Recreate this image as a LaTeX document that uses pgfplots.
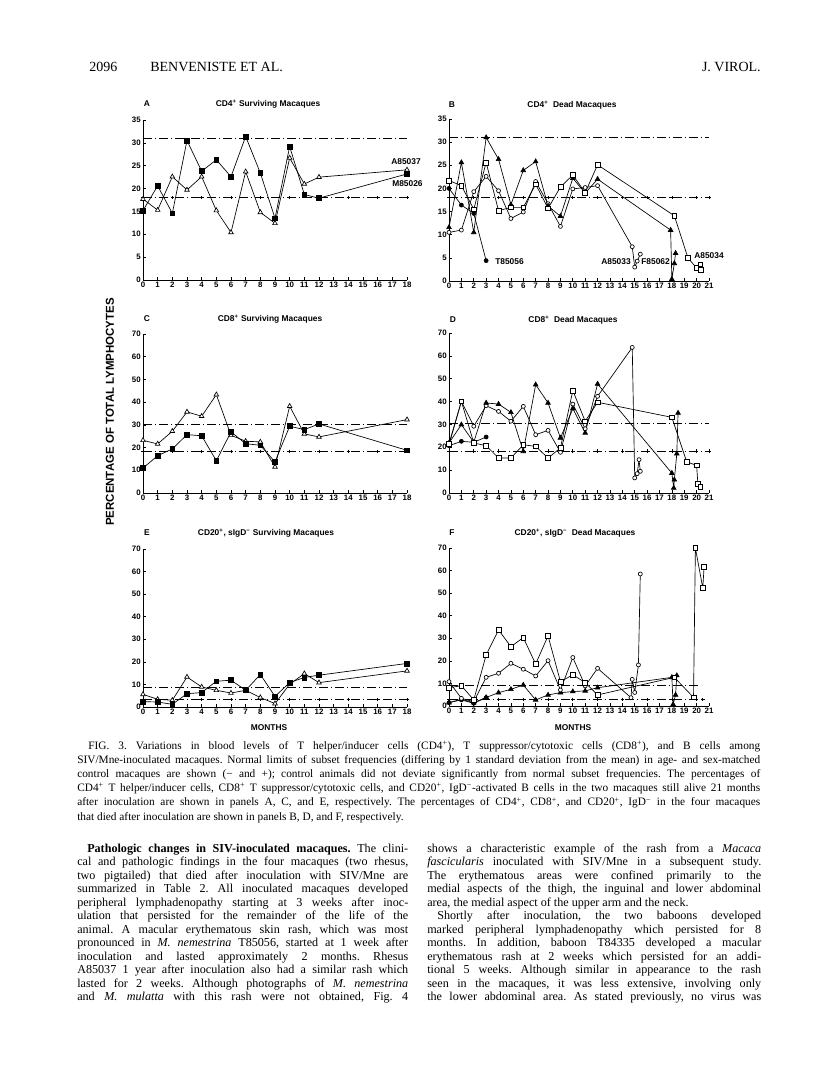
\documentclass[border=0pt]{standalone}
\usepackage{fontspec}
\setmainfont{Liberation Serif}
\newfontfamily\hel{Liberation Sans}
\usepackage{pgfplots}
\pgfplotsset{compat=1.18}
\frenchspacing
\newcommand{\pf}{\hel\bfseries\fontsize{6.3}{7}\selectfont}
\newcommand{\tf}{\hel\bfseries\fontsize{5.9}{7}\selectfont}
\newcommand{\capf}{\fontsize{8.5}{9}\selectfont}
\newcommand{\bodf}{\fontsize{9.1}{10}\selectfont}
\newcommand{\sps}{\textsuperscript{+}}
\newcommand{\smn}{\textsuperscript{−}}
% justified line: x, baseline y (px), width (pt), text
\newcommand{\jl}[4]{\node[anchor=base west, inner sep=0] at (#1,#2) {\makebox[#3pt][s]{#4}};}
\newcommand{\nl}[3]{\node[anchor=base west, inner sep=0] at (#1,#2) {#3};}

\pgfplotsset{
  panel/.style={
    scale only axis,
    axis x line=bottom, axis y line=left,
    axis line style={-, line width=0.6pt},
    tick align=inside, major tick length=2.2pt,
    tick style={black, line width=0.5pt},
    xmin=0, ymin=0,
    ticklabel style={font=\tf},
    /pgf/number format/assume math mode=true,
    x tick label style={inner sep=1pt},
    y tick label style={inner sep=1.5pt},
    clip=false,
    every axis plot/.append style={line width=0.5pt, black},
  },
  surv/.style={panel, width=198pt, xmax=18, xtick={0,...,18}},
  dead/.style={panel, width=195pt, xmax=21, xtick={0,...,21}},
  fsq/.style={mark=square*, mark size=1.8pt, mark options={solid, fill=black}},
  otri/.style={mark=triangle*, mark size=2pt, mark options={solid, fill=white}},
  ftri/.style={mark=triangle*, mark size=2pt, mark options={solid, fill=black}},
  osq/.style={mark=square*, mark size=1.8pt, mark options={solid, fill=white}},
  oci/.style={mark=*, mark size=1.5pt, mark options={solid, fill=white}},
  fci/.style={mark=*, mark size=1.5pt, mark options={solid, fill=black}},
  uref/.style={no marks, line width=0.5pt, dash pattern=on 7pt off 2pt on 1pt off 2pt},
  lref/.style={mark=+, mark size=1.3pt, line width=0.5pt, dash pattern=on 7pt off 2pt on 1pt off 2pt, mark options={solid}},
}

\begin{document}
\begin{tikzpicture}[x=0.75pt,y=-0.75pt]
\path[use as bounding box, fill=white] (0,0) rectangle (816,1080);

% ---------- header ----------
\node[anchor=base west, inner sep=0, font=\fontsize{10.5}{12}\selectfont] at (89,72) {2096};
\node[anchor=base west, inner sep=0, font=\fontsize{10.5}{12}\selectfont] at (150,72) {BENVENISTE ET AL.};
\node[anchor=base east, inner sep=0, font=\fontsize{10.5}{12}\selectfont] at (761,72) {J. VIROL.};

% ---------- panel A ----------
\begin{axis}[surv, at={(107.25pt,-210pt)}, anchor=south west, height=120pt, ymax=35, ytick={0,5,...,35}]
\addplot[uref] coordinates {(0,31)(18,31)};
\addplot[lref] coordinates {(0,18)(2,18)(4,18)(6,18)(8,18)(10,18)(12,18)(14,18)(16,18)(18,18)};
\addplot[otri] coordinates {(0,17.7)(1,15.3)(2,22.6)(3,19.7)(4,22.6)(5,15.2)(6,10.4)(7,23.7)(8,14.8)(9,12.4)(10,26.7)(11,21.0)(12,22.5)(18,24.1)};
\addplot[fsq] coordinates {(0,15.2)(1,20.6)(2,14.6)(3,30.5)(4,23.8)(5,26.3)(6,22.6)(7,31.4)(8,23.4)(9,13.5)(10,29.2)(11,18.7)(12,17.9)(18,23.2)};
\end{axis}

% ---------- panel B ----------
\begin{axis}[dead, at={(336.75pt,-210.75pt)}, anchor=south west, height=121.5pt, ymax=35, ytick={0,5,...,35}]
\addplot[uref] coordinates {(0,31)(21,31)};
\addplot[lref] coordinates {(0,18)(2,18)(4,18)(6,18)(8,18)(10,18)(12,18)(14,18)(16,18)(18,18)(20,18)(21,18)};
\addplot[fci] coordinates {(0,20.0)(1,16.4)(2,14.6)(3,4.4)};
\addplot[oci] coordinates {(0,10.5)(1,11.0)(2,19.3)(3,22.6)(4,19.5)(5,13.5)(6,14.9)(7,21.5)(8,16.7)(9,11.8)(10,19.9)(11,20.2)(12,20.6)(14.8,7.4)(15.0,3.0)(15.2,4.3)(15.45,5.8)};
\addplot[ftri] coordinates {(0,11.6)(1,25.6)(2,10.5)(3,31.0)(4,26.3)(5,16.5)(6,23.9)(7,25.8)(8,16.2)(9,14.0)(10,22.2)(11,19.0)(12,22.0)(17.9,11.0)(18.0,0.4)(18.2,3.8)(18.3,6.0)};
\addplot[osq] coordinates {(0,21.7)(1,20.6)(2,15.5)(3,25.6)(4,15.2)(5,15.9)(6,15.9)(7,20.9)(8,15.7)(9,20.3)(10,22.9)(11,19.1)(12,25.1)(18.2,14.1)(19.3,5.0)(20.0,2.8)(20.3,3.6)(20.35,2.4)};
\end{axis}

% ---------- panel C ----------
\begin{axis}[surv, at={(107.25pt,-369.75pt)}, anchor=south west, height=119.25pt, ymax=70, ytick={0,10,...,70}]
\addplot[uref] coordinates {(0,30.3)(18,30.3)};
\addplot[lref] coordinates {(0,18.3)(2,18.3)(4,18.3)(6,18.3)(8,18.3)(10,18.3)(12,18.3)(14,18.3)(16,18.3)(18,18.3)};
\addplot[otri] coordinates {(0,23.2)(1,21.6)(2,27.2)(3,35.7)(4,33.8)(5,43.3)(6,25.4)(7,22.8)(8,22.5)(9,11.5)(10,38.2)(11,26.0)(12,24.7)(18,32.3)};
\addplot[fsq] coordinates {(0,11.0)(1,16.4)(2,19.4)(3,25.7)(4,25.2)(5,14.2)(6,26.9)(7,21.7)(8,21.0)(9,13.7)(10,29.4)(11,27.9)(12,30.4)(18,18.8)};
\end{axis}

% ---------- panel D ----------
\begin{axis}[dead, at={(336.75pt,-369.75pt)}, anchor=south west, height=120pt, ymax=70, ytick={0,10,...,70}]
\addplot[uref] coordinates {(0,30.3)(21,30.3)};
\addplot[lref] coordinates {(0,18.3)(2,18.3)(4,18.3)(6,18.3)(8,18.3)(10,18.3)(12,18.3)(14,18.3)(16,18.3)(18,18.3)(20,18.3)(21,18.3)};
\addplot[fci] coordinates {(0,20.7)(1,22.6)(2,22.2)(3,24.5)};
\addplot[oci] coordinates {(0,21.1)(1,40.1)(2,29.2)(3,38.2)(4,35.7)(5,31.4)(6,37.9)(7,25.5)(8,27.4)(9,17.8)(10,38.9)(11,28.1)(12,42.3)(14.8,63.7)(15.0,6.6)(15.2,8.5)(15.35,14.6)(15.45,9.5)};
\addplot[ftri] coordinates {(0,21.9)(1,29.9)(2,22.2)(3,39.4)(4,38.9)(5,35.3)(6,18.2)(7,47.4)(8,39.4)(9,24.1)(10,36.9)(11,26.3)(12,47.7)(18,8.7)(18.15,2.2)(18.2,5.8)(18.4,17.2)(18.5,35.0)};
\addplot[osq] coordinates {(0,21.6)(1,40.1)(2,21.9)(3,20.7)(4,15.3)(5,15.3)(6,21.1)(7,20.4)(8,15.3)(9,19.7)(10,44.8)(11,31.4)(12,39.7)(18,33.1)(19.2,13.6)(20,12.1)(20.1,4.1)(20.3,2.6)};
\end{axis}

% ---------- panel E ----------
\begin{axis}[surv, at={(107.25pt,-530.25pt)}, anchor=south west, height=118.5pt, ymax=70, ytick={0,10,...,70}]
\addplot[uref] coordinates {(0,8.9)(18,8.9)};
\addplot[lref] coordinates {(0,3.3)(2,3.3)(4,3.3)(6,3.3)(8,3.3)(10,3.3)(12,3.3)(14,3.3)(16,3.3)(18,3.3)};
\addplot[otri] coordinates {(0,5.6)(1,3.4)(2,3.0)(3,13.3)(4,8.9)(5,7.4)(6,6.2)(7,7.4)(8,4.2)(9,1.5)(10,10.1)(11,14.8)(12,10.8)(18,16.0)};
\addplot[fsq] coordinates {(0,2.4)(1,2.2)(2,1.2)(3,5.9)(4,6.4)(5,11.4)(6,11.9)(7,7.4)(8,14.4)(9,4.7)(10,10.8)(11,13.1)(12,14.1)(18,19.3)};
\end{axis}

% ---------- panel F ----------
\begin{axis}[dead, at={(336.75pt,-529.5pt)}, anchor=south west, height=118.5pt, ymax=70, ytick={0,10,...,70}]
\addplot[uref] coordinates {(0,9.0)(20.3,9.0)};
\addplot[lref] coordinates {(0,3.0)(2,3.0)(4,3.0)(6,3.0)(8,3.0)(10,3.0)(12,3.0)(14,3.0)(16,3.0)(18,3.0)(20,3.0)(20.5,3.0)};
\addplot[fci] coordinates {(0,1.5)(1,2.7)(2,1.2)(3,3.7)};
\addplot[ftri] coordinates {(0,1.5)(1,3.0)(2,1.5)(3,3.8)(4,5.9)(5,7.4)(6,9.3)(7,2.7)(8,4.9)(9,5.9)(10,6.4)(11,6.7)(12,8.1)(18,12.7)(18.1,0.7)(18.3,4.9)(18.4,13.5)};
\addplot[oci] coordinates {(0,10.8)(1,3.4)(2,1.9)(3,12.7)(4,14.5)(5,18.9)(6,16.3)(7,13.3)(8,20.1)(9,7.1)(10,21.5)(11,8.9)(12,16.7)(14.7,3.7)(14.8,11.8)(15.0,6.0)(15.3,18.2)(15.45,58.5)};
\addplot[osq] coordinates {(0,8.1)(1,9.0)(2,2.7)(3,22.6)(4,33.7)(5,26.3)(6,30.3)(7,18.6)(8,31.1)(9,10.8)(10,13.8)(11,10.4)(12,4.9)(18.2,12.7)(19.75,3.8)(19.9,70)(20.5,52.2)(20.6,61.6)};
\end{axis}

% ---------- panel letters, titles, labels ----------
\node[font=\pf] at (147,104) {A};
\node[font=\pf] at (268,104) {CD4\sps\ Surviving Macaques};
\node[font=\pf] at (452,105) {B};
\node[font=\pf] at (572,105) {CD4\sps\ \ Dead Macaques};
\node[font=\pf] at (147,319) {C};
\node[font=\pf] at (270,319) {CD8\sps\ Surviving Macaques};
\node[font=\pf] at (453,320) {D};
\node[font=\pf] at (573,320) {CD8\sps\ \ Dead Macaques};
\node[font=\pf] at (147,533) {E};
\node[font=\pf] at (266,533) {CD20\sps, sIgD\smn\ Surviving Macaques};
\node[font=\pf] at (452,533) {F};
\node[font=\pf] at (575,533) {CD20\sps, sIgD\smn\ \ Dead Macaques};
\node[font=\pf] at (269,728) {MONTHS};
\node[font=\pf] at (573,728) {MONTHS};
\node[font=\pf, anchor=west, inner sep=0] at (391,162) {A85037};
\node[font=\pf, anchor=west, inner sep=0] at (392,184) {M85026};
\node[font=\pf, anchor=west, inner sep=0] at (495,262) {T85056};
\node[font=\pf, anchor=west, inner sep=0] at (601,262) {A85033};
\node[font=\pf, anchor=west, inner sep=0] at (641,262) {F85062};
\node[font=\pf, anchor=west, inner sep=0] at (694,256) {A85034};
\node[font=\hel\bfseries\fontsize{8.6}{10}\selectfont, rotate=90] at (110,412) {PERCENTAGE OF TOTAL LYMPHOCYTES};

% ---------- caption ----------
\begin{scope}[every node/.append style={font=\capf}]
\jl{88}{749}{504}{FIG. 3. Variations in blood levels of T helper/inducer cells (CD4\sps), T suppressor/cytotoxic cells (CD8\sps), and B cells among}
\jl{77}{763.2}{512.25}{SIV/Mne-inoculated macaques. Normal limits of subset frequencies (differing by 1 standard deviation from the mean) in age- and sex-matched}
\jl{77}{777.4}{512.25}{control macaques are shown (− and +); control animals did not deviate significantly from normal subset frequencies. The percentages of}
\jl{77}{791.6}{512.25}{CD4\sps\ T helper/inducer cells, CD8\sps\ T suppressor/cytotoxic cells, and CD20\sps, IgD\smn-activated B cells in the two macaques still alive 21 months}
\jl{77}{805.8}{512.25}{after inoculation are shown in panels A, C, and E, respectively. The percentages of CD4\sps, CD8\sps, and CD20\sps, IgD\smn\ in the four macaques}
\nl{77}{820}{that died after inoculation are shown in panels B, D, and F, respectively.}
\end{scope}

% ---------- body, left column ----------
\begin{scope}[every node/.append style={font=\bodf}]
\jl{87}{852}{240.75}{\textbf{Pathologic changes in SIV-inoculated macaques.} The clini-}
\jl{77}{865.5}{248.25}{cal and pathologic findings in the four macaques (two rhesus,}
\jl{77}{879}{248.25}{two pigtailed) that died after inoculation with SIV/Mne are}
\jl{77}{892.5}{248.25}{summarized in Table 2. All inoculated macaques developed}
\jl{77}{906}{248.25}{peripheral lymphadenopathy starting at 3 weeks after inoc-}
\jl{77}{919.5}{248.25}{ulation that persisted for the remainder of the life of the}
\jl{77}{933}{248.25}{animal. A macular erythematous skin rash, which was most}
\jl{77}{946.5}{248.25}{pronounced in \textit{M. nemestrina} T85056, started at 1 week after}
\jl{77}{960}{248.25}{inoculation and lasted approximately 2 months. Rhesus}
\jl{77}{973.5}{248.25}{A85037 1 year after inoculation also had a similar rash which}
\jl{77}{987}{248.25}{lasted for 2 weeks. Although photographs of \textit{M. nemestrina}}
\jl{77}{1000.5}{248.25}{and \textit{M. mulatta} with this rash were not obtained, Fig. 4}
% right column
\jl{427}{852}{250.5}{shows a characteristic example of the rash from a \textit{Macaca}}
\jl{427}{865.5}{250.5}{\textit{fascicularis} inoculated with SIV/Mne in a subsequent study.}
\jl{427}{879}{250.5}{The erythematous areas were confined primarily to the}
\jl{427}{892.5}{250.5}{medial aspects of the thigh, the inguinal and lower abdominal}
\nl{427}{906}{area, the medial aspect of the upper arm and the neck.}
\jl{437}{919.5}{243}{Shortly after inoculation, the two baboons developed}
\jl{427}{933}{250.5}{marked peripheral lymphadenopathy which persisted for 8}
\jl{427}{946.5}{250.5}{months. In addition, baboon T84335 developed a macular}
\jl{427}{960}{250.5}{erythematous rash at 2 weeks which persisted for an addi-}
\jl{427}{973.5}{250.5}{tional 5 weeks. Although similar in appearance to the rash}
\jl{427}{987}{250.5}{seen in the macaques, it was less extensive, involving only}
\jl{427}{1000.5}{250.5}{the lower abdominal area. As stated previously, no virus was}
\end{scope}
\end{tikzpicture}
\end{document}
